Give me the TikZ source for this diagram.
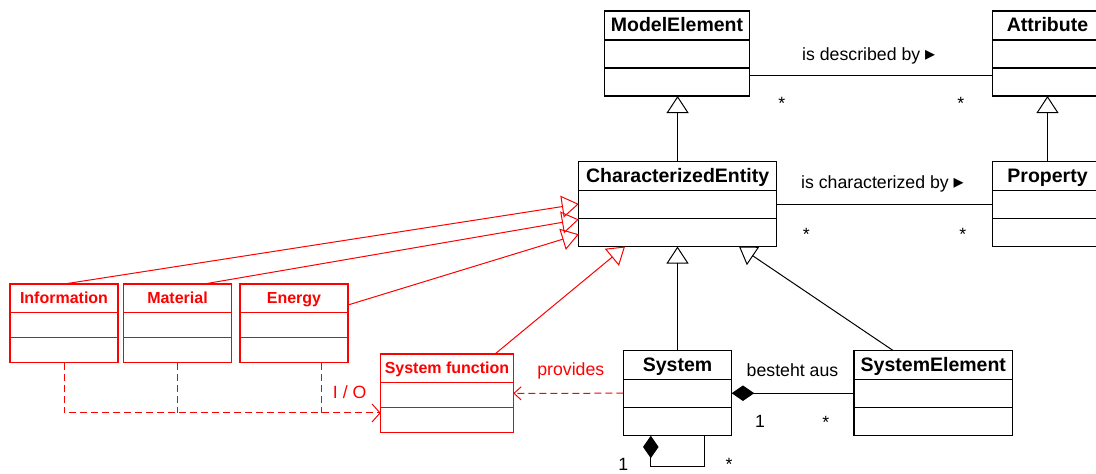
\documentclass[tikz,border=0pt]{standalone}
\usepackage{fontspec}
\setmainfont{Liberation Sans}
\newfontfamily\symfont{DejaVu Sans}
\usetikzlibrary{arrows.meta}

\tikzset{
  classbox/.style={draw, line width=1.3pt, inner sep=0pt, outer sep=0pt, fill=white},
  ctitle/.style={font=\fontsize{19.5}{20}\selectfont\bfseries, anchor=base, inner sep=0pt, yshift=-20.7pt},
  rtitle/.style={font=\fontsize{16}{17}\selectfont\bfseries, anchor=base, inner sep=0pt, yshift=-19.3pt, text=red},
  lbl/.style={font=\fontsize{17.7}{18}\selectfont, anchor=base, inner sep=0pt},
  gen/.style={line width=1pt, -{Triangle[open, length=17pt, width=22pt]}},
  rgen/.style={line width=1pt, red, -{Triangle[open, length=17pt, width=22pt]}},
  assoc/.style={line width=1pt},
  comp/.style={line width=1pt, {Diamond[length=22.5pt, width=15.5pt]}-},
  rdep/.style={line width=1pt, red, dash pattern=on 7pt off 4pt},
}

% #1 name, #2 left, #3 top, #4 width, #5 header height,
% #6 compartment height, #7 colour, #8 title style, #9 title
\newcommand\umlclass[9]{%
  \node[classbox, draw=#7, anchor=north west, minimum width=#4pt,
        minimum height={#5pt+2*#6pt}] (#1) at (#2,#3) {};
  \draw[line width=1.3pt, #7] ([yshift=-#5pt]#1.north west) -- ([yshift=-#5pt]#1.north east);
  \draw[line width=1.3pt, #7] ([yshift=-#5pt-#6pt]#1.north west) -- ([yshift=-#5pt-#6pt]#1.north east);
  \node[#8] (#1-title) at (#1.north) {#9};
}

\begin{document}
\begin{tikzpicture}[x=1pt, y=-1pt]
  \useasboundingbox (0,0) rectangle (1096,474);
  \clip (0,0) rectangle (1096,474);

  % metamodel classes
  \umlclass{model}{604.7}{11}{144.6}{29}{28}{black}{ctitle}{ModelElement}
  \umlclass{attr}{992.7}{11}{109.6}{29}{28}{black}{ctitle}{Attribute}
  \umlclass{charent}{578.8}{161.5}{197.6}{29}{28}{black}{ctitle}{CharacterizedEntity}
  \umlclass{prop}{992.7}{161.5}{109.6}{29}{28}{black}{ctitle}{Property}
  \umlclass{system}{623.3}{350.7}{108.4}{29}{28}{black}{ctitle}{System}
  \umlclass{sysel}{854}{350.7}{158.7}{29}{28}{black}{ctitle}{SystemElement}

  % function extension
  \umlclass{info}{10}{284}{108}{28.7}{25}{red}{rtitle}{Information}
  \umlclass{mat}{123.7}{284}{107.6}{28.7}{25}{red}{rtitle}{Material}
  \umlclass{energy}{240}{284}{108}{28.7}{25}{red}{rtitle}{Energy}
  \umlclass{sysfn}{380.7}{354}{132.6}{28.7}{25}{red}{rtitle}{System function}

  % generalizations
  \draw[gen] (charent.north) -- (charent.north |- model.south);
  \draw[gen] (prop.north) -- (prop.north |- attr.south);
  \draw[gen] (system.north) -- (system.north |- charent.south);
  \draw[gen] ([xshift=-40pt]sysel.north) -- ([xshift=160.2pt]charent.south west);

  \draw[rgen] (info.north) -- ([yshift=-42.5pt]charent.north west);
  \draw[rgen] ([xshift=26.5pt]mat.north) -- ([yshift=-58pt]charent.north west);
  \draw[rgen] ([yshift=-21pt]energy.north east) -- ([yshift=-72.8pt]charent.north west);
  \draw[rgen] ([xshift=114.3pt]sysfn.north west) -- ([xshift=46.2pt]charent.south west);

  % associations
  \draw[assoc] ([yshift=21pt]model.south east) coordinate (d1) -- (d1 -| attr.west);
  \draw[assoc] ([yshift=-43.2pt]charent.north east) coordinate (c1) -- (c1 -| prop.west);

  % compositions
  \draw[comp] (system.east) -- (sysel.west);
  \draw[comp] ([xshift=27.5pt]system.south west) -- ++(0,31) -| ([xshift=81pt]system.south west);

  % dependencies
  \coordinate (io) at ([yshift=-19.6pt]sysfn.west);
  \draw[rdep, -{Straight Barb[length=8pt, width=18pt]}] (info.south) |- (io);
  \draw[rdep] (mat.south) -- (mat.south |- io);
  \draw[rdep] ([xshift=27pt]energy.south) -- ([xshift=27pt]energy.south |- io);
  \draw[rdep, -{Straight Barb[length=7pt, width=13pt]}] (system.west) -- (sysfn.east);

  % labels and multiplicities
  \node[lbl, anchor=base west] (ldesc) at (802,60) {is described by {\symfont\fontsize{20}{20}\selectfont ▸}};
  \node[lbl, anchor=base west] (lchar) at (801,188.6) {is characterized by {\symfont\fontsize{20}{20}\selectfont ▸}};
  \node[lbl] (m1) at (781.7,109.4) {*};
  \node[lbl] (m2) at (960.7,109.4) {*};
  \node[lbl] (m3) at (806.2,240.6) {*};
  \node[lbl] (m4) at (962.7,240.6) {*};
  \node[lbl] (besteht) at (792.5,376.7) {besteht aus};
  \node[lbl] (m5) at (760,427.7) {1};
  \node[lbl] (m6) at (825.8,428.5) {*};
  \node[lbl] (m7) at (623.3,470) {1};
  \node[lbl] (m8) at (729,470) {*};
  \node[lbl, text=red] (provides) at (570.8,375) {provides};
  \node[lbl, text=red] (iolabel) at (349.7,398.3) {I / O};
\end{tikzpicture}
\end{document}
